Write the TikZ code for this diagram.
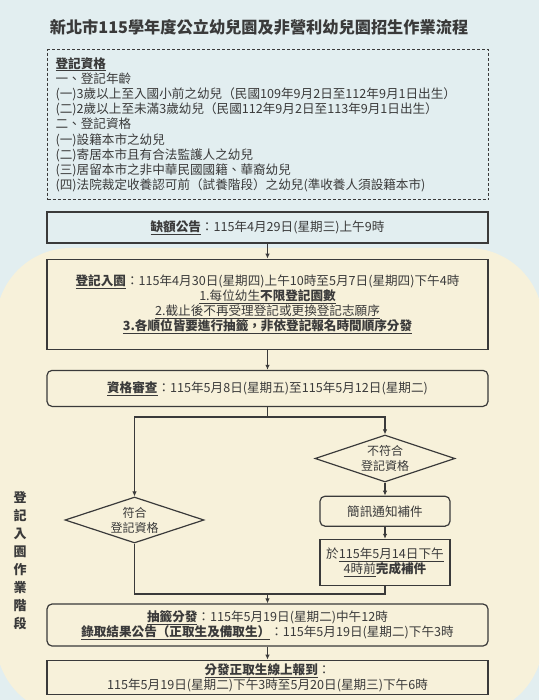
\documentclass[tikz,border=0pt]{standalone}
\usepackage{fontspec}
\setmainfont{Noto Sans CJK TC}
\usepackage{tikz}
\usetikzlibrary{arrows.meta,positioning,shapes.geometric}
\usepackage{xcolor}
\definecolor{bgblue}{RGB}{226,238,240}
\definecolor{cream}{RGB}{247,241,218}
\definecolor{ink}{RGB}{58,58,58}

\begin{document}
\begin{tikzpicture}[
  x=1pt,y=-1pt,
  node distance=13pt,
  box/.style={rectangle,draw=ink,line width=1.2pt,align=center,text=ink,
              font=\fontsize{12.6}{15.2}\selectfont,inner sep=3pt,minimum width=441pt},
  rbox/.style={box,rounded corners=5pt},
  choice/.style={diamond,draw=ink,line width=1.2pt,align=center,text=ink,
              font=\fontsize{12}{15}\selectfont,inner sep=0pt,aspect=3},
  link/.style={line width=1.2pt,ink},
  arr/.style={link,-{Latex[length=5pt,width=4.5pt]}}
]
\useasboundingbox (0,0) rectangle (539,700);
\fill[bgblue] (0,0) rectangle (539,700);
\begin{scope}
  \clip (0,0) rectangle (539,700);
  \fill[cream,rounded corners=75pt] (-4,248) rectangle (543,715);
\end{scope}
\node[font=\fontsize{16.2}{18}\selectfont\bfseries,text=ink] (title) at (259,27) {新北市115學年度公立幼兒園及非營利幼兒園招生作業流程};
\node[box,dash pattern=on 3pt off 2pt,align=left,text width=425pt,minimum height=150pt,anchor=north west] (quals) at (47,49) {%
  \underline{\textbf{登記資格}}\\
  一、登記年齡\\
  (一)3歲以上至入國小前之幼兒（民國109年9月2日至112年9月1日出生）\\
  (二)2歲以上至未滿3歲幼兒（民國112年9月2日至113年9月1日出生）\\
  二、登記資格\\
  (一)設籍本市之幼兒\\
  (二)寄居本市且有合法監護人之幼兒\\
  (三)居留本市之非中華民國國籍、華裔幼兒\\
  (四)法院裁定收養認可前（試養階段）之幼兒(準收養人須設籍本市)};
\node[box,minimum height=31pt] (notice) at (267.5,227.5) {\underline{\textbf{缺額公告}}：115年4月29日(星期三)上午9時};
\node[box,below=15pt of notice,minimum height=90pt] (register) {%
  \underline{\textbf{登記入園}}：115年4月30日(星期四)上午10時至5月7日(星期四)下午4時\\
  \underline{1.每位幼生\textbf{不限登記園數}}\\
  \underline{2.截止後不再受理登記或更換登記志願序}\\
  \underline{\textbf{3.各順位皆要進行抽籤，非依登記報名時間順序分發}}};
\node[rbox,below=20pt of register,minimum height=36pt] (review) {\underline{\textbf{資格審查}}：115年5月8日(星期五)至115年5月12日(星期二)};
\coordinate (split) at (267.5,417);
\node[choice,minimum width=140pt,minimum height=47pt] (fail) at (385,458.5) {不符合\\登記資格};
\node[rbox,below=13pt of fail,minimum width=130pt,minimum height=30pt] (sms) {簡訊通知補件};
\node[box,below=12pt of sms,minimum width=130pt,minimum height=46pt] (fix) {於\underline{115年5月14日下午}\\\underline{4時前}\textbf{完成補件}};
\node[choice,minimum width=139pt,minimum height=46pt] (pass) at (134.5,520) {符合\\登記資格};
\coordinate (merge) at (267.5,594);
\node[rbox,minimum height=42pt] (lottery) at (267.5,625) {%
  \underline{\textbf{抽籤分發}}：115年5月19日(星期二)中午12時\\
  \underline{\textbf{錄取結果公告（正取生及備取生）}}：115年5月19日(星期二)下午3時};
\node[box,below=13pt of lottery,minimum height=33pt] (report) {%
  \underline{\textbf{分發正取生線上報到}}：\\
  115年5月19日(星期二)下午3時至5月20日(星期三)下午6時};
\node[text=ink,font=\fontsize{13}{18}\selectfont\bfseries,align=center] (stage) at (20,560.5) {登\\記\\入\\園\\作\\業\\階\\段};
\draw[arr] (notice) -- (register);
\draw[arr] (register) -- (review);
\draw[link] (review) -- (split);
\draw[arr] (split) -| (pass.north);
\draw[arr] (split) -| (fail.north);
\draw[arr] (fail) -- (sms);
\draw[arr] (sms) -- (fix);
\draw[link] (pass.south) |- (merge) -| (fix.south);
\draw[arr] (merge) -- (lottery);
\draw[arr] (lottery) -- (report);
\end{tikzpicture}
\end{document}
